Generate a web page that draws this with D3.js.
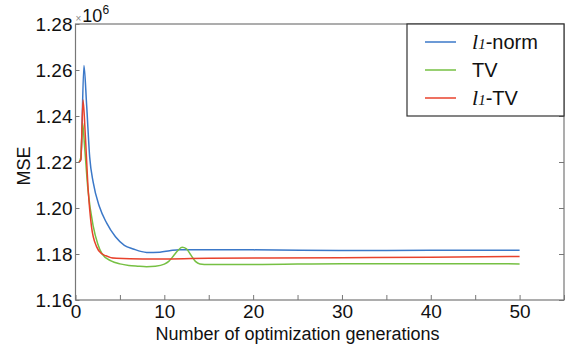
<!DOCTYPE html>
<html>
<head>
<meta charset="utf-8">
<script src="https://cdn.jsdelivr.net/npm/d3@7"></script>
<style>
  body { margin: 0; background: #fff; }
  svg { font-family: "Liberation Sans", Arial, sans-serif; }
</style>
</head>
<body>
<div id="chart"></div>
<script>
// values (x = generation, v = MSE in units of 1e6)
const l1NormX = [0.4, 0.6, 0.95, 1.25, 1.6, 2.0, 2.7, 3.5, 4.5, 5.5, 6.5, 8.0, 9.5, 10.6, 11.7, 15, 20, 30, 40, 50];
const l1NormV = [1.220, 1.221, 1.262, 1.245, 1.222, 1.211, 1.2005, 1.1935, 1.1875, 1.1838, 1.1822, 1.1807, 1.1808, 1.1814, 1.1819, 1.1818, 1.1818, 1.1815, 1.1816, 1.1816];

const tvX = [0.4, 0.6, 0.8, 1.0, 1.4, 2.0, 2.5, 3.0, 4.0, 5, 6, 7, 8, 9, 10, 10.5, 11, 11.5, 12, 12.5, 13, 13.5, 14, 15, 20, 30, 40, 50];
const tvV = [1.220, 1.222, 1.237, 1.228, 1.208, 1.192, 1.1845, 1.1800, 1.1770, 1.1757, 1.1750, 1.1747, 1.1745, 1.1747, 1.1756, 1.1768, 1.1790, 1.1814, 1.1829, 1.1822, 1.1795, 1.1768, 1.1757, 1.1754, 1.1754, 1.1758, 1.1758, 1.1757];

const l1TvX = [0.4, 0.6, 0.85, 1.1, 1.43, 1.8, 2.37, 2.9, 4.6, 7.6, 15, 30, 40, 50];
const l1TvV = [1.220, 1.221, 1.247, 1.232, 1.2078, 1.1919, 1.1832, 1.1803, 1.1781, 1.1778, 1.1781, 1.1784, 1.1786, 1.1789];

const xTicks = [0, 5, 10, 15, 20, 25, 30, 35, 40, 45, 50, 55];
const yTicks = [1.16, 1.18, 1.20, 1.22, 1.24, 1.26, 1.28];

const series = [
  { name: "l1-norm", xs: l1NormX, vs: l1NormV, color: "#3b78c8" },
  { name: "TV", xs: tvX, vs: tvV, color: "#76c043" },
  { name: "l1-TV", xs: l1TvX, vs: l1TvV, color: "#e8422c" }
];

const width = 574, height = 349;
const margin = { top: 24, right: 10, bottom: 49, left: 75.5 };

const svg = d3.select("#chart").append("svg")
  .attr("width", width)
  .attr("height", height);

const x = d3.scaleLinear().domain([0, 55]).range([margin.left, width - margin.right]);
const y = d3.scaleLinear().domain([1.16, 1.28]).range([height - margin.bottom, margin.top]);

const axisColor = "#777";

// lines
const line = d3.line()
  .x(d => x(d[0]))
  .y(d => y(d[1]))
  .curve(d3.curveMonotoneX);

svg.append("g")
  .selectAll("path")
  .data(series)
  .join("path")
    .attr("fill", "none")
    .attr("stroke", d => d.color)
    .attr("stroke-width", 1.5)
    .attr("d", d => line(d.xs.map((v, i) => [v, d.vs[i]])));

// bottom axis, ticks pointing inward
const xAxis = g => g
  .attr("transform", `translate(0,${y(1.16)})`)
  .call(d3.axisBottom(x).tickValues(xTicks).tickSize(-5).tickPadding(5)
    .tickFormat(d => (d % 10 === 0 && d <= 50) ? d : ""))
  .call(g => g.select(".domain").remove())
  .call(g => g.selectAll(".tick line").attr("stroke", axisColor))
  .call(g => g.selectAll(".tick text").attr("fill", "#111").attr("font-size", 19)
    .attr("font-family", "Liberation Sans, Arial, sans-serif"));

const yAxis = g => g
  .attr("transform", `translate(${margin.left},0)`)
  .call(d3.axisLeft(y).tickValues(yTicks).tickSize(-4).tickPadding(3).tickFormat(d3.format(".2f")))
  .call(g => g.select(".domain").remove())
  .call(g => g.selectAll(".tick line").attr("stroke", axisColor))
  .call(g => g.selectAll(".tick text").attr("fill", "#111").attr("font-size", 19)
    .attr("font-family", "Liberation Sans, Arial, sans-serif"));

const yAxisRight = g => g
  .attr("transform", `translate(${width - margin.right},0)`)
  .call(d3.axisRight(y).tickValues(yTicks).tickSize(-5).tickFormat(""))
  .call(g => g.select(".domain").remove())
  .call(g => g.selectAll(".tick line").attr("stroke", axisColor));

svg.append("g").call(xAxis);
svg.append("g").call(yAxis);
svg.append("g").call(yAxisRight);

// box
svg.append("rect")
  .attr("x", margin.left)
  .attr("y", margin.top)
  .attr("width", width - margin.right - margin.left)
  .attr("height", height - margin.bottom - margin.top)
  .attr("fill", "none")
  .attr("stroke", axisColor)
  .attr("stroke-width", 1.2);

// exponent label
const expo = svg.append("text")
  .attr("x", margin.left)
  .attr("y", 22)
  .attr("fill", "#111");
expo.append("tspan").text("\u00d7").attr("font-size", 10).attr("fill", "#888");
expo.append("tspan").text("10").attr("font-size", 18).attr("dx", 1);
expo.append("tspan").text("6").attr("font-size", 12).attr("dy", -8);

// axis titles
svg.append("text")
  .attr("x", x(25))
  .attr("y", 340)
  .attr("text-anchor", "middle")
  .attr("font-size", 18)
  .attr("fill", "#111")
  .text("Number of optimization generations");

svg.append("text")
  .attr("transform", `translate(30,${166}) rotate(-90)`)
  .attr("text-anchor", "middle")
  .attr("font-size", 18)
  .attr("fill", "#111")
  .text("MSE");

// legend
const legend = svg.append("g");
legend.append("rect")
  .attr("x", 407)
  .attr("y", margin.top)
  .attr("width", width - margin.right - 407)
  .attr("height", 92)
  .attr("fill", "#fff")
  .attr("stroke", "#333")
  .attr("stroke-width", 1.2);

const rowY = [42, 70, 98];
series.forEach((s, i) => {
  legend.append("line")
    .attr("x1", 425).attr("x2", 456)
    .attr("y1", rowY[i]).attr("y2", rowY[i])
    .attr("stroke", s.color)
    .attr("stroke-width", 1.5);
  const t = legend.append("text")
    .attr("x", 472)
    .attr("y", rowY[i] + 7)
    .attr("font-size", 20)
    .attr("fill", "#111");
  if (s.name.startsWith("l1")) {
    t.append("tspan").text("l").attr("font-family", "Liberation Serif, Times New Roman, serif")
      .attr("font-style", "italic").attr("font-size", 22);
    t.append("tspan").text("1").attr("font-family", "Liberation Serif, Times New Roman, serif")
      .attr("font-style", "italic").attr("font-size", 15);
    t.append("tspan").text(s.name.slice(2));
  } else {
    t.text(s.name);
  }
});
</script>
</body>
</html>
